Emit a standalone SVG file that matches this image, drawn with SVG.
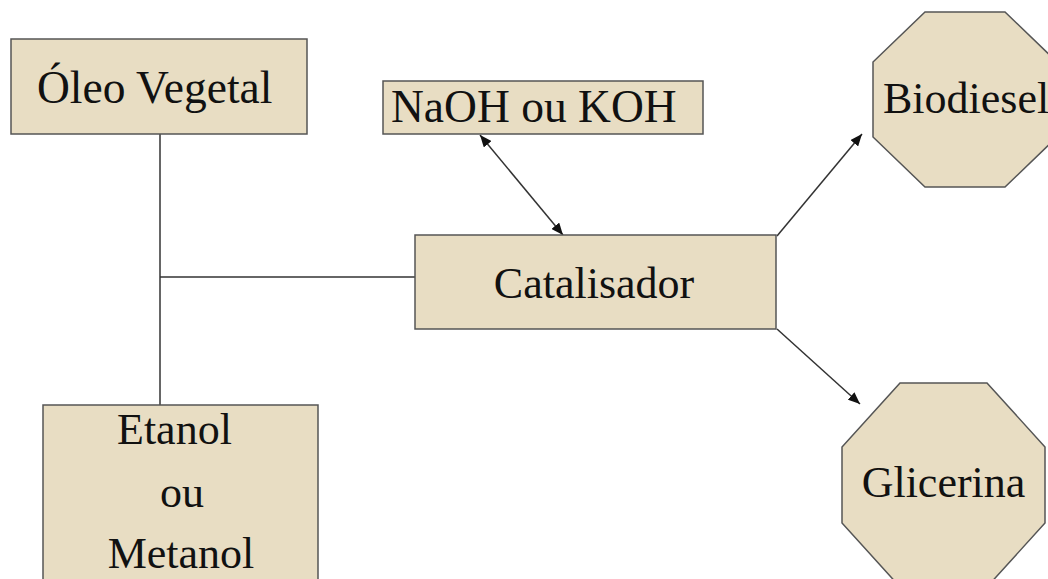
<svg xmlns="http://www.w3.org/2000/svg" width="1048" height="579" viewBox="0 0 1048 579">
<style>
.box{fill:#E8DDC3;stroke:#555;stroke-width:1.5}
.lbl{font-family:"Liberation Serif","Times New Roman",serif;font-size:44px;fill:#111}
.big{font-size:45.5px}
.ln{stroke:#333;stroke-width:1.5;fill:none}
</style>
<defs>
<marker id="ah" viewBox="0 0 12 10" refX="12" refY="5" markerWidth="12" markerHeight="10" markerUnits="userSpaceOnUse" orient="auto-start-reverse">
<path d="M0,0 L12,5 L0,10 z" fill="#111"/>
</marker>
</defs>
<rect width="1048" height="579" fill="#fff"/>
<g id="connectors">
<path class="ln" d="M160,134 V405"/>
<path class="ln" d="M160,277 H415"/>
<line class="ln" x1="480" y1="135" x2="563" y2="235" marker-start="url(#ah)" marker-end="url(#ah)"/>
<line class="ln" x1="777" y1="236" x2="862" y2="134" marker-end="url(#ah)"/>
<line class="ln" x1="777" y1="329" x2="860" y2="404" marker-end="url(#ah)"/>
</g>
<g id="oleo">
<rect class="box" x="11" y="39" width="296" height="95"/>
<text class="lbl big" x="37" y="103">Óleo Vegetal</text>
</g>
<g id="naoh">
<rect class="box" x="383" y="81" width="320" height="53"/>
<text class="lbl big" x="391" y="122">NaOH ou KOH</text>
</g>
<g id="catalisador">
<rect class="box" x="415" y="235" width="361" height="94"/>
<text class="lbl" x="594" y="298" text-anchor="middle">Catalisador</text>
</g>
<g id="biodiesel">
<polygon class="box" points="925,12 1005,12 1057,62 1057,137 1005,187 925,187 873,137 873,62"/>
<text class="lbl" x="883" y="113">Biodiesel</text>
</g>
<g id="glicerina">
<polygon class="box" points="900,383 987,383 1045,447 1045,523 987,587 900,587 842,523 842,447"/>
<text class="lbl" x="943.5" y="497" text-anchor="middle">Glicerina</text>
</g>
<g id="etanol">
<rect class="box" x="43" y="405" width="275" height="190"/>
<text class="lbl" x="117" y="444">Etanol</text>
<text class="lbl" x="182" y="507" text-anchor="middle">ou</text>
<text class="lbl" x="181" y="568" text-anchor="middle">Metanol</text>
</g>
</svg>
